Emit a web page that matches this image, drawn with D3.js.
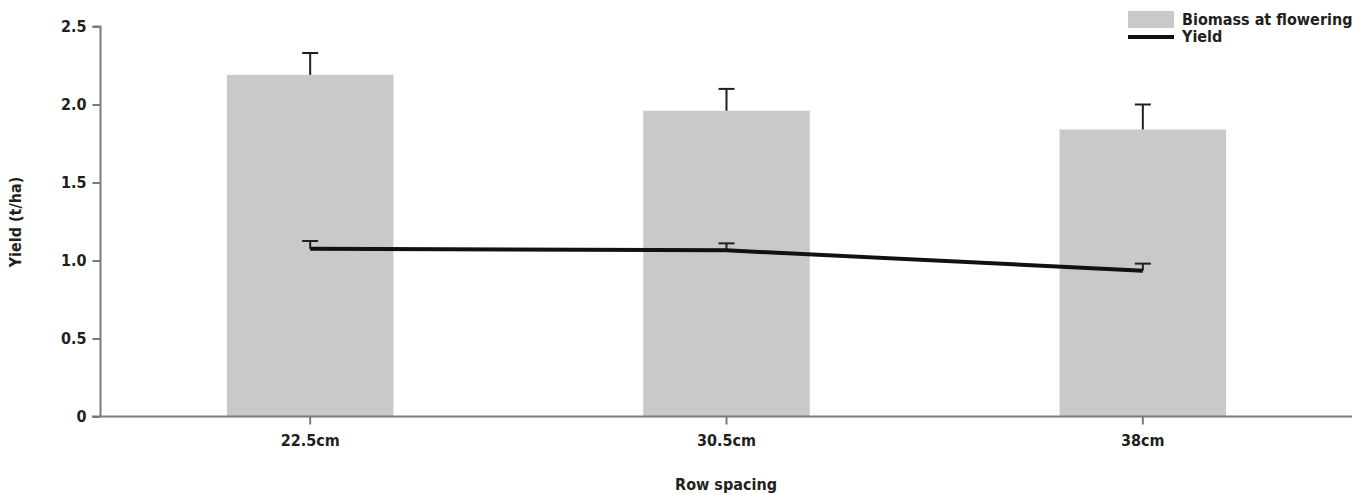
<!DOCTYPE html>
<html>
<head>
<meta charset="utf-8">
<script src="https://cdn.jsdelivr.net/npm/d3@7"></script>
<style>
  body { margin: 0; background: #fff; }
  svg text { font-family: "DejaVu Sans Condensed", "Liberation Sans Narrow", sans-serif; fill: #231f20; }
</style>
</head>
<body>
<svg id="chart"></svg>
<script>
var categories = ['22.5cm', '30.5cm', '38cm'],
  biomass = [2.19, 1.96, 1.84],
  biomassErr = [0.14, 0.14, 0.16],
  yieldVals = [1.075, 1.065, 0.935],
  yieldErr = [0.05, 0.045, 0.045],
  yTicks = [0, 0.5, 1.0, 1.5, 2.0, 2.5],
  yTickLabels = ['0', '0.5', '1.0', '1.5', '2.0', '2.5'];

var width = 1354,
  height = 495,
  axisColor = '#7a7a7a';

var svg = d3.select('#chart').attr('width', width).attr('height', height);

var x = d3.scaleBand()
  .domain(categories)
  .range([102, 1351])
  .paddingInner(0.6)
  .paddingOuter(0.3);

var y = d3.scaleLinear()
  .domain([0, 2.5])
  .range([416.5, 26.5]);

// bars
svg.append('g')
  .selectAll('rect')
  .data(biomass)
  .enter()
  .append('rect')
  .attr('x', function (d, i) { return x(categories[i]); })
  .attr('y', function (d) { return y(d); })
  .attr('width', x.bandwidth())
  .attr('height', function (d) { return y(0) - y(d); })
  .style('fill', '#c8c9cb');

// error bars
function errorBars(vals, errs) {
  var g = svg.append('g').style('stroke', '#231f20').style('stroke-width', 2);
  vals.forEach(function (v, i) {
    var cx = x(categories[i]) + x.bandwidth() / 2;
    g.append('line')
      .attr('x1', cx).attr('x2', cx)
      .attr('y1', y(v)).attr('y2', y(v + errs[i]));
    g.append('line')
      .attr('x1', cx - 8).attr('x2', cx + 8)
      .attr('y1', y(v + errs[i])).attr('y2', y(v + errs[i]));
  });
}
errorBars(biomass, biomassErr);
errorBars(yieldVals, yieldErr);

// yield line
var line = d3.line()
  .x(function (d, i) { return x(categories[i]) + x.bandwidth() / 2; })
  .y(function (d) { return y(d); });

svg.append('path')
  .datum(yieldVals)
  .attr('d', line)
  .style('fill', 'none')
  .style('stroke', '#111')
  .style('stroke-width', 4);

// y axis
var yAxis = d3.axisLeft(y)
  .tickValues(yTicks)
  .tickFormat(function (d, i) { return yTickLabels[i]; })
  .tickSize(8)
  .tickPadding(6);

var gy = svg.append('g')
  .attr('transform', 'translate(100.5,0)')
  .call(yAxis);
gy.select('.domain').attr('d', 'M-8,' + y(2.5) + 'H0V' + y(0));
gy.selectAll('line, path').style('stroke', axisColor).style('stroke-width', 2);
gy.selectAll('text').style('font-size', '16px').style('font-weight', 'bold').attr('fill', '#231f20');

// x axis
var xAxis = d3.axisBottom(x).tickSize(8).tickPadding(10);
var gx = svg.append('g')
  .attr('transform', 'translate(0,' + y(0) + ')')
  .call(xAxis);
gx.select('.domain').attr('d', 'M92,0H1352');
gx.selectAll('line, path').style('stroke', axisColor).style('stroke-width', 2);
gx.selectAll('text').style('font-size', '16px').style('font-weight', 'bold').attr('fill', '#231f20');

// axis titles
svg.append('text')
  .attr('transform', 'translate(21,222) rotate(-90)')
  .attr('text-anchor', 'middle')
  .style('font-size', '16px')
  .style('font-weight', 'bold')
  .text('Yield (t/ha)');

svg.append('text')
  .attr('x', 726)
  .attr('y', 490)
  .attr('text-anchor', 'middle')
  .style('font-size', '16px')
  .style('font-weight', 'bold')
  .text('Row spacing');

// legend
var legend = svg.append('g').attr('transform', 'translate(1128,0)');
legend.append('rect')
  .attr('x', 0).attr('y', 11)
  .attr('width', 46).attr('height', 17)
  .style('fill', '#c8c9cb');
legend.append('text')
  .attr('x', 54).attr('y', 25)
  .style('font-size', '16px')
  .style('font-weight', 'bold')
  .text('Biomass at flowering');
legend.append('line')
  .attr('x1', 0).attr('x2', 46)
  .attr('y1', 37).attr('y2', 37)
  .style('stroke', '#111')
  .style('stroke-width', 4);
legend.append('text')
  .attr('x', 54).attr('y', 42)
  .style('font-size', '16px')
  .style('font-weight', 'bold')
  .text('Yield');
</script>
</body>
</html>
